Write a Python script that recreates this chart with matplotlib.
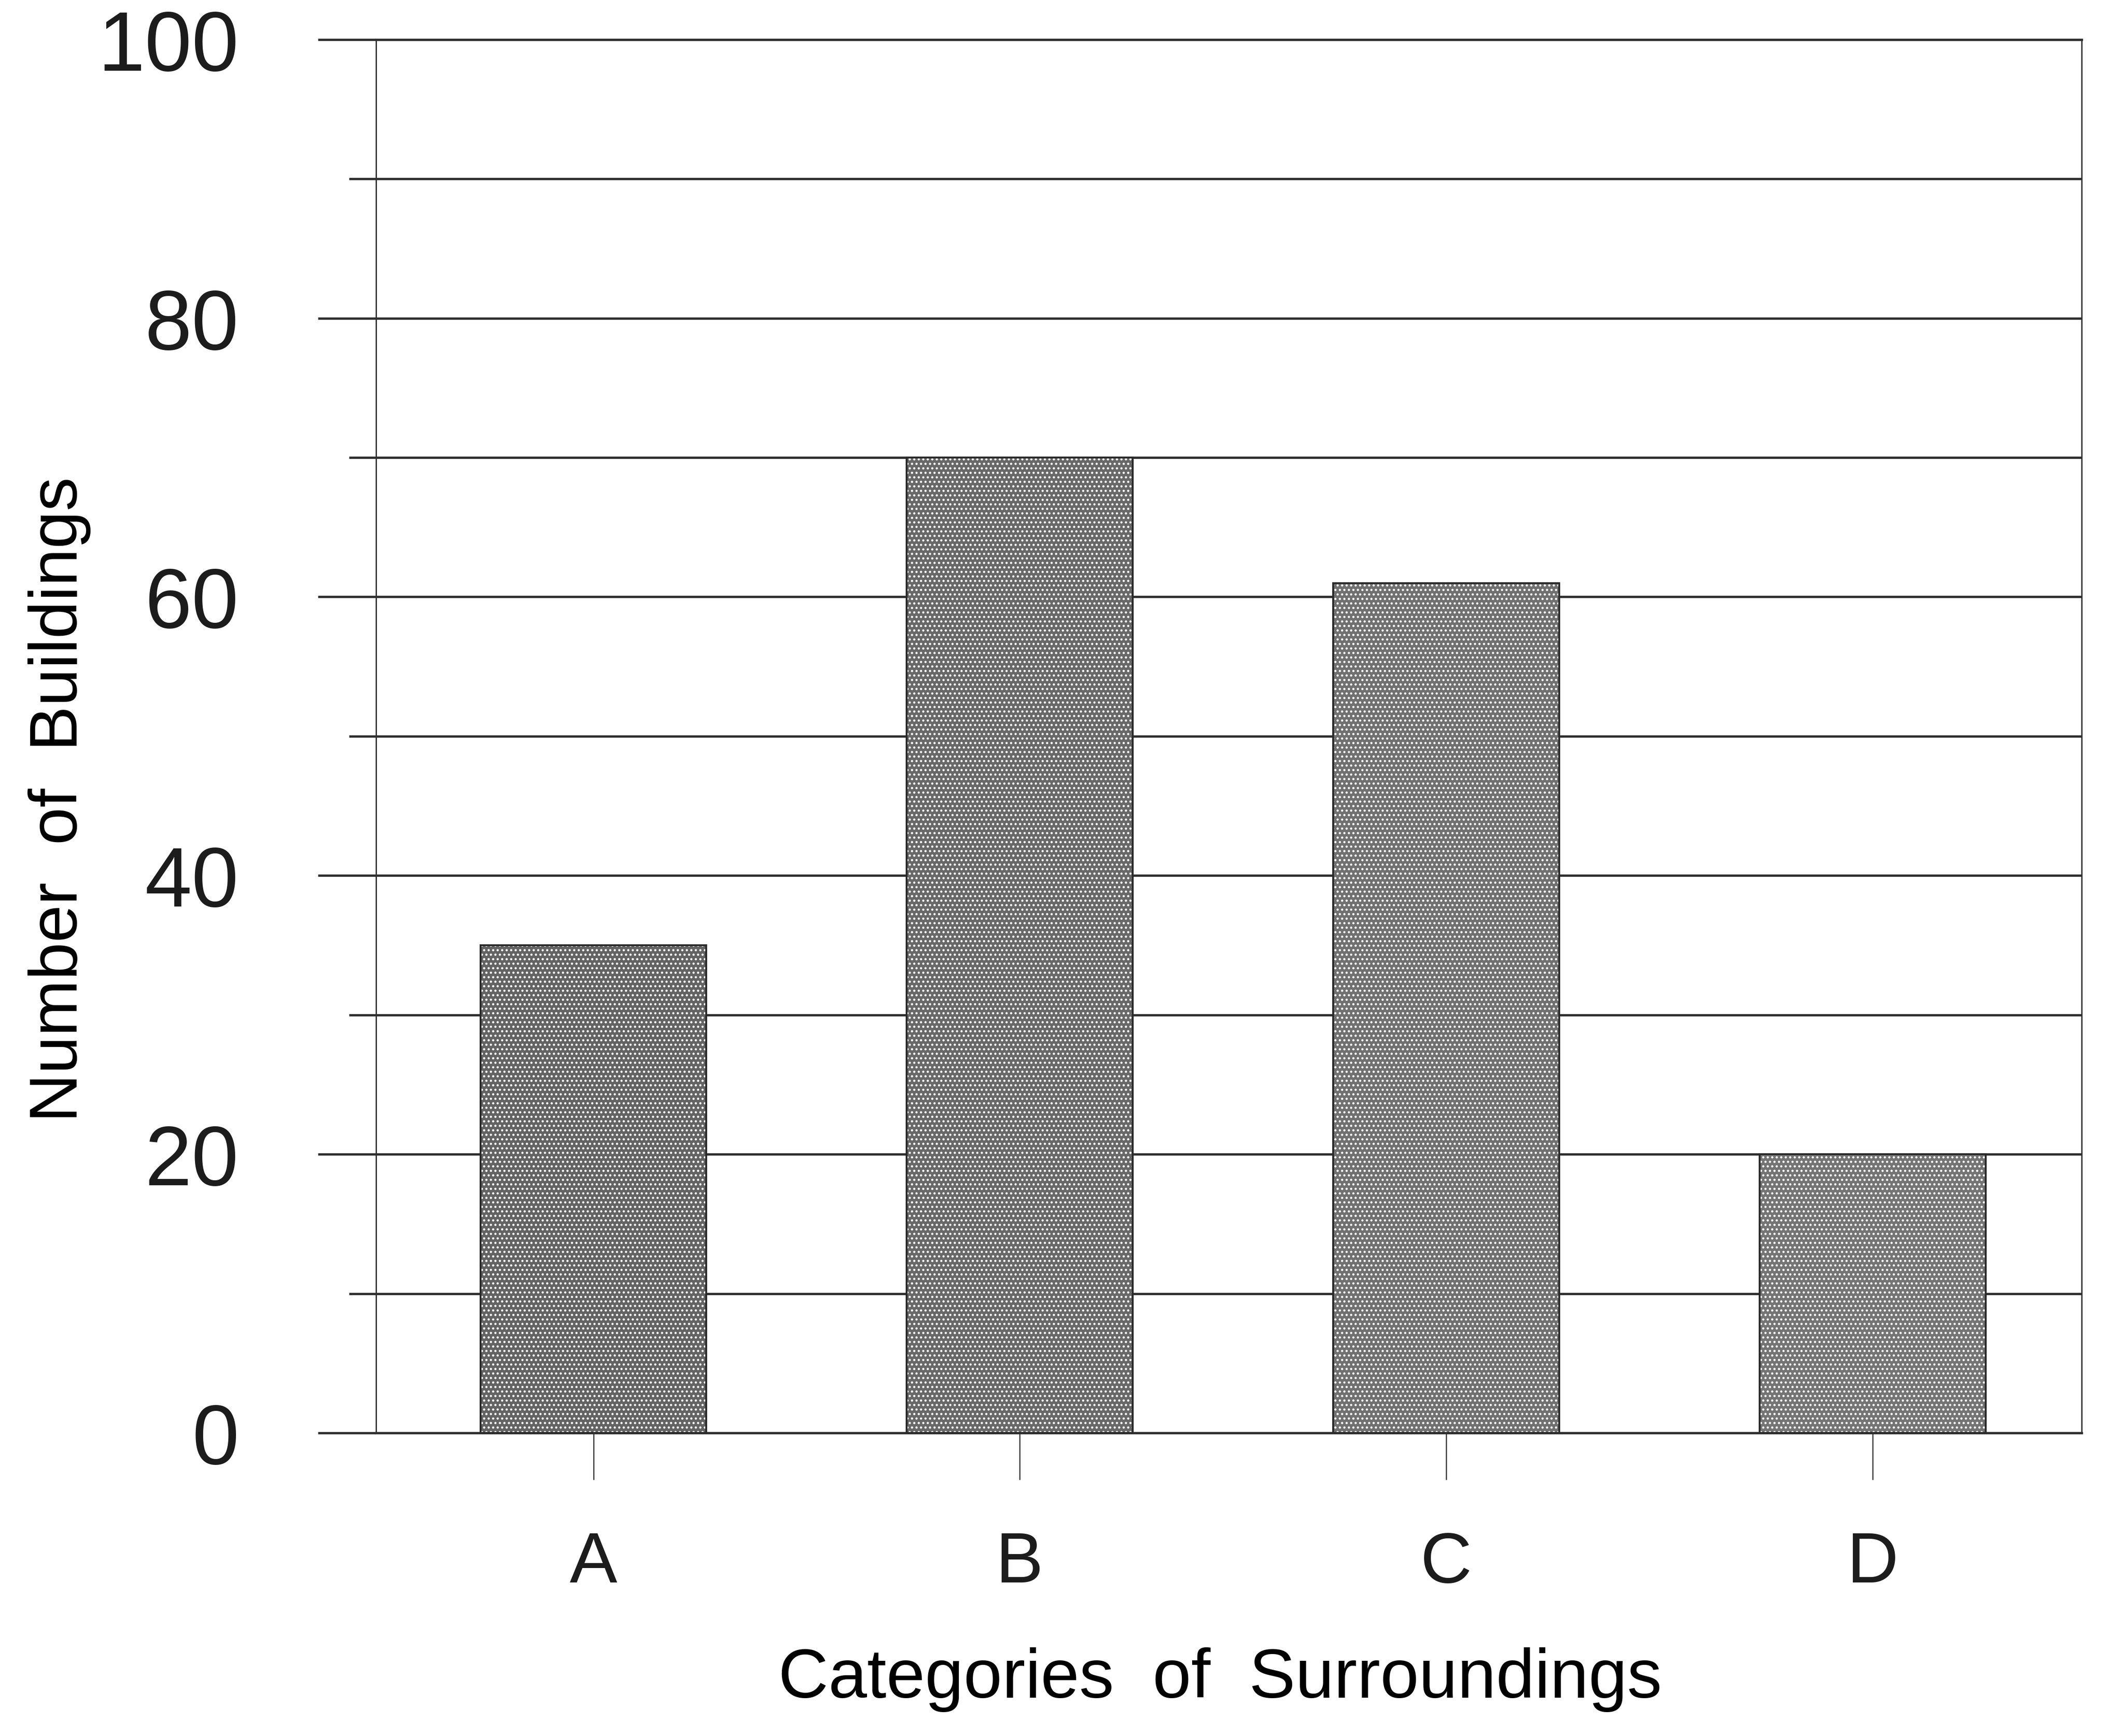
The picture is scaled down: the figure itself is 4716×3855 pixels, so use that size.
import matplotlib
matplotlib.use("Agg")
import matplotlib.pyplot as plt
from matplotlib.ticker import MultipleLocator

# number of buildings per category of surroundings
categories = ["A", "B", "C", "D"]
buildings = [35, 70, 61, 20]
bar_tones = ["#636363", "#686868", "#707070", "#747474"]
y_major = [0, 20, 40, 60, 80, 100]

INK = "#1c1c1c"
LINE = "#303030"

plt.rcParams["font.family"] = ["Liberation Sans", "DejaVu Sans"]
plt.rcParams["hatch.linewidth"] = 0.7
plt.rcParams["text.color"] = INK
plt.rcParams["xtick.color"] = LINE
plt.rcParams["ytick.color"] = LINE
plt.rcParams["xtick.labelcolor"] = INK
plt.rcParams["ytick.labelcolor"] = INK

fig, ax = plt.subplots(figsize=(15.72, 12.8533), dpi=300)
fig.subplots_adjust(left=0.177, right=0.980, bottom=0.1745, top=0.977)

x = list(range(len(categories)))
width = 0.53

# halftone look: gray fill, white dot screen on top, dark outline last
ax.bar(x, buildings, width=width, color=bar_tones, linewidth=0, zorder=2)
ax.bar(x, buildings, width=width, color="none", edgecolor="white",
       linewidth=0, hatch=".....", zorder=3)
ax.bar(x, buildings, width=width, color="none", edgecolor="#2a2a2a",
       linewidth=1.0, zorder=4)

ax.set_xlim(-0.51, 3.49)
ax.set_ylim(0, 100)
ax.set_xticks(x)
ax.set_xticklabels(categories)
ax.set_yticks(y_major)
ax.yaxis.set_minor_locator(MultipleLocator(10))

ax.set_axisbelow(True)
ax.grid(axis="y", which="both", color=LINE, linewidth=1.25)
ax.grid(axis="x", visible=False)

ax.tick_params(axis="y", which="major", direction="out", length=31,
               width=1.25, pad=42, labelsize=45)
ax.tick_params(axis="y", which="minor", direction="out", length=14.5,
               width=1.25)
ax.tick_params(axis="x", direction="out", length=25, width=0.6,
               pad=27, labelsize=38)

for side in ["left", "right"]:
    ax.spines[side].set_linewidth(0.7)
    ax.spines[side].set_color(LINE)
for side in ["top", "bottom"]:
    ax.spines[side].set_linewidth(1.25)
    ax.spines[side].set_color(LINE)

ax.set_ylabel("Number  of  Buildings", fontsize=36)
ax.yaxis.set_label_coords(-0.167, 0.455)
ax.set_xlabel("Categories  of  Surroundings", fontsize=37)
ax.xaxis.set_label_coords(0.495, -0.1535)

fig.savefig("out.png", dpi=300)
